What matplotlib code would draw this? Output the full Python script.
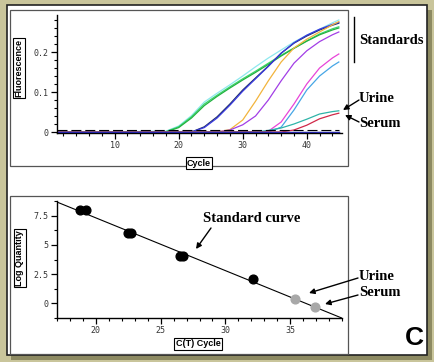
import matplotlib.pyplot as plt
from matplotlib.patches import Rectangle, FancyArrowPatch
from matplotlib.ticker import MultipleLocator

W, H = 434, 362

# --- amplification plot (fluorescence vs cycle) ---
cycles = [1, 18, 20, 22, 24, 26, 28, 30, 32, 34, 36, 38, 40, 42, 44, 45]
cyan = [0, 0.002, 0.015, 0.041, 0.075, 0.097, 0.118, 0.14, 0.163, 0.185, 0.205, 0.225, 0.242, 0.257, 0.273, 0.28]
green = [0, 0.001, 0.013, 0.038, 0.07, 0.092, 0.113, 0.133, 0.152, 0.172, 0.192, 0.21, 0.228, 0.245, 0.258, 0.263]
green2 = [0, 0, 0.011, 0.035, 0.066, 0.089, 0.11, 0.13, 0.149, 0.169, 0.19, 0.209, 0.227, 0.243, 0.255, 0.26]
navy = [0, 0, 0, 0, 0.013, 0.038, 0.07, 0.105, 0.135, 0.165, 0.197, 0.222, 0.24, 0.255, 0.267, 0.272]
blue = [0, 0, 0, 0, 0.011, 0.035, 0.067, 0.102, 0.133, 0.164, 0.197, 0.223, 0.242, 0.257, 0.269, 0.274]
orange = [0, 0, 0, 0, 0, 0, 0.006, 0.03, 0.077, 0.128, 0.175, 0.21, 0.232, 0.25, 0.268, 0.276]
purple = [0, 0, 0, 0, 0, 0, 0.005, 0.018, 0.04, 0.08, 0.128, 0.172, 0.203, 0.226, 0.243, 0.25]
magenta = [0, 0, 0, 0, 0, 0, 0, 0, 0, 0.002, 0.025, 0.07, 0.12, 0.16, 0.185, 0.195]
sky = [0, 0, 0, 0, 0, 0, 0, 0, 0, 0, 0.012, 0.055, 0.105, 0.14, 0.165, 0.175]
urine = [0, 0, 0, 0, 0, 0, 0, 0, 0, 0.004, 0.01, 0.02, 0.032, 0.045, 0.051, 0.053]
serum = [0, 0, 0, 0, 0, 0, 0, 0, 0, 0, 0, 0.005, 0.017, 0.033, 0.043, 0.047]
threshold = 0.006

curves = [
    (cyan, "#8ee8ee"), (green, "#3ad86a"), (green2, "#22b040"),
    (navy, "#1f2f66"), (blue, "#3a3ae0"), (orange, "#f2b43c"),
    (purple, "#a23ee6"), (magenta, "#e844d8"), (sky, "#46a6e6"),
    (urine, "#2eb4a8"), (serum, "#d02848"),
]
baseline_colors = ["#2ca02c", "#8a2be2", "#2b2bd0"]

# --- standard curve (log quantity vs C(T)) ---
std_ct = [18.8, 19.2, 22.5, 22.7, 26.5, 26.7, 32.1]
std_logq = [8.0, 8.0, 6.05, 6.05, 4.05, 4.05, 2.1]
sample_ct = [35.4, 36.9]          # urine, serum
sample_logq = [0.35, -0.35]
fit_ct = [17, 39]
fit_logq = [8.7, -1.3]


def fx(x):
    return x / W


def fy(y):
    return 1 - y / H


fig = plt.figure(figsize=(W / 100, H / 100), dpi=100, facecolor="#c9c59b")

# panel, shadow and inner boxes
fig.patches.append(Rectangle((fx(11), fy(360)), fx(421), 350 / H, transform=fig.transFigure,
                             facecolor="#8d8a62", edgecolor="none", zorder=-2))
fig.patches.append(Rectangle((fx(7), fy(355)), fx(420), 350 / H, transform=fig.transFigure,
                             facecolor="white", edgecolor="#222222", lw=1.2, zorder=-1))
for top, bot in [(10, 166), (196, 354)]:
    fig.patches.append(Rectangle((fx(10), fy(bot)), fx(338), (bot - top) / H,
                                 transform=fig.transFigure, facecolor="none",
                                 edgecolor="#555555", lw=0.9, zorder=-1))

label_box = dict(boxstyle="square,pad=0.15", facecolor="white", edgecolor="black", lw=0.8)


def style_axes(ax):
    ax.set_zorder(2)
    for s in ["top", "right"]:
        ax.spines[s].set_visible(False)
    for s in ["left", "bottom"]:
        ax.spines[s].set_linewidth(1.0)
    ax.patch.set_visible(False)
    ax.tick_params(which="major", length=4, width=0.9, direction="out", pad=2, colors="black")
    ax.tick_params(which="minor", length=2.5, width=0.8, direction="out")
    for lab in ax.get_xticklabels() + ax.get_yticklabels():
        lab.set_fontfamily("DejaVu Sans Mono")
        lab.set_fontsize(6)
        lab.set_color("#333333")


# top: amplification curves
ax1 = fig.add_axes([fx(57), fy(133), fx(342) - fx(57), 118 / H])
for vals, col in curves:
    ax1.plot(cycles, vals, color=col, lw=0.9)
for col in baseline_colors:
    ax1.plot([cycles[0], cycles[-1]], [0, 0], color=col, lw=0.9)
ax1.plot([cycles[0], cycles[-1]], [threshold, threshold], color="black", lw=0.8,
         linestyle=(0, (9, 3.5)))
ax1.set_xlim(1, 45.5)
ax1.set_ylim(-0.0025, 0.2925)
ax1.set_xticks([10, 20, 30, 40])
ax1.set_xticklabels(["10", "20", "30", "40"])
ax1.xaxis.set_minor_locator(MultipleLocator(2))
ax1.set_yticks([0, 0.1, 0.2])
ax1.set_yticklabels(["0", "0.1", "0.2"])
ax1.yaxis.set_minor_locator(MultipleLocator(0.02))
style_axes(ax1)

# bottom: standard curve
ax2 = fig.add_axes([fx(57), fy(318), fx(342) - fx(57), 117 / H])
ax2.plot(fit_ct, fit_logq, color="black", lw=0.8)
ax2.plot(std_ct, std_logq, "o", color="black", ms=6.3, zorder=3)
ax2.plot(sample_ct, sample_logq, "o", color="#a8a8a8", ms=6.3, zorder=3)
ax2.set_xlim(17, 39)
ax2.set_ylim(-1.29, 8.79)
ax2.set_xticks([20, 25, 30, 35])
ax2.set_xticklabels(["20", "25", "30", "35"])
ax2.xaxis.set_minor_locator(MultipleLocator(1))
ax2.set_yticks([0, 2.5, 5, 7.5])
ax2.set_yticklabels(["0", "2.5", "5", "7.5"])
ax2.yaxis.set_minor_locator(MultipleLocator(1.25))
style_axes(ax2)

# axis label boxes
lab_kw = dict(family="Liberation Sans", fontweight="bold", fontsize=6.5, bbox=label_box,
              ha="center", va="center")
fig.text(fx(19), fy(68), "Fluorescence", rotation=90, **lab_kw)
fig.text(fx(199), fy(163), "Cycle", **lab_kw)
fig.text(fx(20), fy(258), "Log Quantity", rotation=90, **lab_kw)
fig.text(fx(198), fy(344), "C(T) Cycle", **lab_kw)

# annotations
note_kw = dict(family="Liberation Serif", fontweight="bold", fontsize=10.5, va="center")
arrow = dict(arrowstyle="-|>", color="black", lw=1.0, mutation_scale=8, shrinkA=0, shrinkB=0)

fig.add_artist(plt.Line2D([fx(354), fx(354)], [fy(17), fy(62)], color="black", lw=1.0))
fig.text(fx(359), fy(40), "Standards", **note_kw)

fig.text(fx(359), fy(99), "Urine", **note_kw)
fig.text(fx(359), fy(123), "Serum", **note_kw)
fig.text(fx(203), fy(219), "Standard curve", **note_kw)
fig.text(fx(359), fy(276), "Urine", **note_kw)
fig.text(fx(359), fy(293), "Serum", **note_kw)

for tail, head in [((359, 100), (343, 110)), ((359, 122), (345, 115)),
                   ((211, 228), (196, 249)), ((358, 278), (309, 293)),
                   ((358, 295), (325, 304))]:
    fig.add_artist(FancyArrowPatch((fx(tail[0]), fy(tail[1])), (fx(head[0]), fy(head[1])),
                                   transform=fig.transFigure, **arrow))

fig.text(fx(414), fy(338), "C", family="Liberation Sans", fontweight="bold", fontsize=19,
         ha="center", va="center")

fig.savefig("out.png", dpi=100, facecolor=fig.get_facecolor())
